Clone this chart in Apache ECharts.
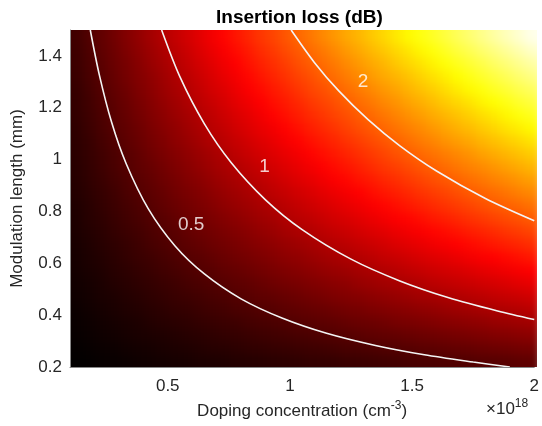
<!DOCTYPE html>
<html>
<head>
<meta charset="utf-8">
<script src="https://cdn.jsdelivr.net/npm/echarts@6/dist/echarts.min.js"></script>
<style>
html, body { margin: 0; padding: 0; background: #fff; }
#wrap { position: relative; width: 542px; height: 426px; }
#clip { position: absolute; left: 70px; top: 30px; width: 467px; height: 337px; overflow: hidden; }
#heat { position: absolute; left: -70px; top: -30px; width: 542px; height: 426px; filter: blur(5px); }
#chart { position: absolute; left: 0; top: 0; width: 542px; height: 426px; }
</style>
</head>
<body>
<div id="wrap">
  <div id="clip"><div id="heat"></div></div>
  <div id="chart"></div>
</div>
<script>
// cell centres (doping in 1e18 cm^-3, length in mm), cells are 0.05 wide/tall
var dopingCenters = [0.125,0.175,0.225,0.275,0.325,0.375,0.425,0.475,0.525,0.575,0.625,0.675,0.725,0.775,0.825,0.875,0.925,0.975,1.025,1.075,1.125,1.175,1.225,1.275,1.325,1.375,1.425,1.475,1.525,1.575,1.625,1.675,1.725,1.775,1.825,1.875,1.925,1.975];
var lengthCenters = [0.225,0.275,0.325,0.375,0.425,0.475,0.525,0.575,0.625,0.675,0.725,0.775,0.825,0.875,0.925,0.975,1.025,1.075,1.125,1.175,1.225,1.275,1.325,1.375,1.425,1.475];

// insertion loss (dB), one row per length, bottom row first
var loss = [
[0.06,0.07,0.09,0.10,0.11,0.13,0.14,0.16,0.17,0.18,0.20,0.21,0.22,0.24,0.25,0.26,0.28,0.29,0.30,0.32,0.33,0.34,0.36,0.37,0.38,0.40,0.41,0.43,0.44,0.45,0.47,0.48,0.49,0.51,0.52,0.53,0.55,0.56],
[0.07,0.09,0.11,0.12,0.14,0.16,0.17,0.19,0.21,0.22,0.24,0.26,0.27,0.29,0.31,0.32,0.34,0.35,0.37,0.39,0.40,0.42,0.44,0.45,0.47,0.49,0.50,0.52,0.54,0.55,0.57,0.59,0.60,0.62,0.64,0.65,0.67,0.68],
[0.09,0.11,0.13,0.15,0.17,0.19,0.20,0.22,0.24,0.26,0.28,0.30,0.32,0.34,0.36,0.38,0.40,0.42,0.44,0.46,0.48,0.50,0.52,0.54,0.56,0.58,0.59,0.61,0.63,0.65,0.67,0.69,0.71,0.73,0.75,0.77,0.79,0.81],
[0.10,0.12,0.15,0.17,0.19,0.21,0.24,0.26,0.28,0.30,0.33,0.35,0.37,0.39,0.42,0.44,0.46,0.48,0.51,0.53,0.55,0.57,0.60,0.62,0.64,0.66,0.69,0.71,0.73,0.75,0.78,0.80,0.82,0.84,0.87,0.89,0.91,0.93],
[0.11,0.14,0.17,0.19,0.22,0.24,0.27,0.29,0.32,0.34,0.37,0.40,0.42,0.45,0.47,0.50,0.52,0.55,0.57,0.60,0.62,0.65,0.68,0.70,0.73,0.75,0.78,0.80,0.83,0.85,0.88,0.91,0.93,0.96,0.98,1.01,1.03,1.06],
[0.13,0.16,0.19,0.21,0.24,0.27,0.30,0.33,0.36,0.38,0.41,0.44,0.47,0.50,0.53,0.56,0.58,0.61,0.64,0.67,0.70,0.73,0.76,0.78,0.81,0.84,0.87,0.90,0.93,0.95,0.98,1.01,1.04,1.07,1.10,1.13,1.15,1.18],
[0.14,0.17,0.20,0.24,0.27,0.30,0.33,0.36,0.39,0.43,0.46,0.49,0.52,0.55,0.58,0.61,0.65,0.68,0.71,0.74,0.77,0.80,0.83,0.87,0.90,0.93,0.96,0.99,1.02,1.06,1.09,1.12,1.15,1.18,1.21,1.24,1.28,1.31],
[0.16,0.19,0.22,0.26,0.29,0.33,0.36,0.40,0.43,0.47,0.50,0.53,0.57,0.60,0.64,0.67,0.71,0.74,0.78,0.81,0.85,0.88,0.91,0.95,0.98,1.02,1.05,1.09,1.12,1.16,1.19,1.22,1.26,1.29,1.33,1.36,1.40,1.43],
[0.17,0.21,0.24,0.28,0.32,0.36,0.39,0.43,0.47,0.51,0.54,0.58,0.62,0.66,0.69,0.73,0.77,0.81,0.84,0.88,0.92,0.96,0.99,1.03,1.07,1.11,1.14,1.18,1.22,1.26,1.29,1.33,1.37,1.41,1.44,1.48,1.52,1.56],
[0.18,0.22,0.26,0.30,0.34,0.38,0.43,0.47,0.51,0.55,0.59,0.63,0.67,0.71,0.75,0.79,0.83,0.87,0.91,0.95,0.99,1.03,1.07,1.11,1.15,1.19,1.24,1.28,1.32,1.36,1.40,1.44,1.48,1.52,1.56,1.60,1.64,1.68],
[0.20,0.24,0.28,0.33,0.37,0.41,0.46,0.50,0.54,0.59,0.63,0.67,0.72,0.76,0.80,0.85,0.89,0.94,0.98,1.02,1.07,1.11,1.15,1.20,1.24,1.28,1.33,1.37,1.41,1.46,1.50,1.54,1.59,1.63,1.67,1.72,1.76,1.81],
[0.21,0.26,0.30,0.35,0.40,0.44,0.49,0.53,0.58,0.63,0.67,0.72,0.77,0.81,0.86,0.91,0.95,1.00,1.05,1.09,1.14,1.19,1.23,1.28,1.33,1.37,1.42,1.46,1.51,1.56,1.60,1.65,1.70,1.74,1.79,1.84,1.88,1.93],
[0.22,0.27,0.32,0.37,0.42,0.47,0.52,0.57,0.62,0.67,0.72,0.77,0.82,0.87,0.92,0.97,1.01,1.06,1.11,1.16,1.21,1.26,1.31,1.36,1.41,1.46,1.51,1.56,1.61,1.66,1.71,1.76,1.81,1.86,1.91,1.96,2.00,2.05],
[0.24,0.29,0.34,0.39,0.45,0.50,0.55,0.60,0.66,0.71,0.76,0.81,0.87,0.92,0.97,1.02,1.08,1.13,1.18,1.23,1.29,1.34,1.39,1.44,1.50,1.55,1.60,1.65,1.71,1.76,1.81,1.86,1.92,1.97,2.02,2.07,2.13,2.18],
[0.25,0.31,0.36,0.42,0.47,0.53,0.58,0.64,0.69,0.75,0.80,0.86,0.92,0.97,1.03,1.08,1.14,1.19,1.25,1.30,1.36,1.42,1.47,1.53,1.58,1.64,1.69,1.75,1.80,1.86,1.91,1.97,2.03,2.08,2.14,2.19,2.25,2.30],
[0.26,0.32,0.38,0.44,0.50,0.56,0.61,0.67,0.73,0.79,0.85,0.91,0.97,1.02,1.08,1.14,1.20,1.26,1.32,1.37,1.43,1.49,1.55,1.61,1.67,1.73,1.78,1.84,1.90,1.96,2.02,2.08,2.14,2.19,2.25,2.31,2.37,2.43],
[0.28,0.34,0.40,0.46,0.52,0.58,0.65,0.71,0.77,0.83,0.89,0.95,1.01,1.08,1.14,1.20,1.26,1.32,1.38,1.45,1.51,1.57,1.63,1.69,1.75,1.81,1.88,1.94,2.00,2.06,2.12,2.18,2.24,2.31,2.37,2.43,2.49,2.55],
[0.29,0.35,0.42,0.48,0.55,0.61,0.68,0.74,0.81,0.87,0.94,1.00,1.06,1.13,1.19,1.26,1.32,1.39,1.45,1.52,1.58,1.64,1.71,1.77,1.84,1.90,1.97,2.03,2.10,2.16,2.23,2.29,2.35,2.42,2.48,2.55,2.61,2.68],
[0.30,0.37,0.44,0.51,0.57,0.64,0.71,0.78,0.84,0.91,0.98,1.05,1.11,1.18,1.25,1.32,1.38,1.45,1.52,1.59,1.65,1.72,1.79,1.86,1.92,1.99,2.06,2.13,2.19,2.26,2.33,2.40,2.46,2.53,2.60,2.67,2.73,2.80],
[0.32,0.39,0.46,0.53,0.60,0.67,0.74,0.81,0.88,0.95,1.02,1.09,1.16,1.23,1.30,1.37,1.45,1.52,1.59,1.66,1.73,1.80,1.87,1.94,2.01,2.08,2.15,2.22,2.29,2.36,2.43,2.50,2.57,2.64,2.71,2.78,2.86,2.93],
[0.33,0.40,0.48,0.55,0.62,0.70,0.77,0.85,0.92,0.99,1.07,1.14,1.21,1.29,1.36,1.43,1.51,1.58,1.65,1.73,1.80,1.87,1.95,2.02,2.09,2.17,2.24,2.32,2.39,2.46,2.54,2.61,2.68,2.76,2.83,2.90,2.98,3.05],
[0.34,0.42,0.50,0.57,0.65,0.73,0.80,0.88,0.96,1.03,1.11,1.19,1.26,1.34,1.42,1.49,1.57,1.64,1.72,1.80,1.87,1.95,2.03,2.10,2.18,2.26,2.33,2.41,2.49,2.56,2.64,2.72,2.79,2.87,2.95,3.02,3.10,3.17],
[0.36,0.44,0.52,0.60,0.68,0.76,0.83,0.91,0.99,1.07,1.15,1.23,1.31,1.39,1.47,1.55,1.63,1.71,1.79,1.87,1.95,2.03,2.11,2.19,2.27,2.35,2.42,2.50,2.58,2.66,2.74,2.82,2.90,2.98,3.06,3.14,3.22,3.30],
[0.37,0.45,0.54,0.62,0.70,0.78,0.87,0.95,1.03,1.11,1.20,1.28,1.36,1.44,1.53,1.61,1.69,1.77,1.86,1.94,2.02,2.10,2.19,2.27,2.35,2.43,2.52,2.60,2.68,2.76,2.85,2.93,3.01,3.09,3.18,3.26,3.34,3.42],
[0.38,0.47,0.56,0.64,0.73,0.81,0.90,0.98,1.07,1.15,1.24,1.33,1.41,1.50,1.58,1.67,1.75,1.84,1.92,2.01,2.09,2.18,2.27,2.35,2.44,2.52,2.61,2.69,2.78,2.86,2.95,3.04,3.12,3.21,3.29,3.38,3.46,3.55],
[0.40,0.49,0.58,0.66,0.75,0.84,0.93,1.02,1.11,1.19,1.28,1.37,1.46,1.55,1.64,1.73,1.81,1.90,1.99,2.08,2.17,2.26,2.35,2.43,2.52,2.61,2.70,2.79,2.88,2.96,3.05,3.14,3.23,3.32,3.41,3.50,3.58,3.67]
];

// contour lines: [doping, length]
var contour05 = [[0.183,1.5],[0.22,1.327],[0.27,1.145],[0.33,0.984],[0.42,0.811],[0.53,0.667],[0.65,0.559],[0.8,0.463],[0.97,0.388],[1.15,0.33],[1.35,0.283],[1.55,0.247],[1.75,0.219],[1.9,0.2]];
var contour1 = [[0.475,1.5],[0.55,1.319],[0.65,1.138],[0.76,0.988],[0.9,0.845],[1.05,0.73],[1.25,0.616],[1.45,0.532],[1.65,0.467],[1.85,0.416],[2.0,0.383]];
var contour2 = [[1.005,1.5],[1.1,1.375],[1.2,1.265],[1.32,1.154],[1.45,1.053],[1.6,0.956],[1.8,0.85],[2.0,0.764]];
var contourLabels = [[0.596,0.749,'0.5'],[0.896,0.974,'1'],[1.299,1.30,'2']];

var xTicks = [0.5, 1, 1.5, 2];
var yTicks = [0.2, 0.4, 0.6, 0.8, 1, 1.2, 1.4];

var nCols = dopingCenters.length, nRows = lengthCenters.length;
var cellData = [];
for (var j = 0; j < nRows; j++) {
    for (var i = 0; i < nCols; i++) {
        cellData.push([dopingCenters[i], lengthCenters[j], loss[j][i]]);
    }
}

var halfW = (dopingCenters[1] - dopingCenters[0]) / 2;
var halfH = (lengthCenters[1] - lengthCenters[0]) / 2;

// edge cells are stretched past the frame so the blur does not fade the border
function renderCell(params, api) {
    var x = api.value(0), y = api.value(1);
    var col = params.dataIndex % nCols, row = Math.floor(params.dataIndex / nCols);
    var p0 = api.coord([x - halfW, y + halfH]);
    var p1 = api.coord([x + halfW, y - halfH]);
    var x0 = p0[0], y0 = p0[1], x1 = p1[0] + 1, y1 = p1[1] + 1;
    if (col === 0) x0 -= 15;
    if (col === nCols - 1) x1 += 15;
    if (row === 0) y1 += 15;
    if (row === nRows - 1) y0 -= 15;
    return {
        type: 'rect',
        shape: { x: x0, y: y0, width: x1 - x0, height: y1 - y0 },
        style: { fill: api.visual('color') }
    };
}

var font = 'Liberation Sans';
var gridBox = { left: 70, top: 30, width: 467, height: 337 };

var heatChart = echarts.init(document.getElementById('heat'));
heatChart.setOption({
    animation: false,
    grid: gridBox,
    visualMap: {
        show: false,
        type: 'continuous',
        seriesIndex: 0,
        dimension: 2,
        min: 0.05,
        max: 3.75,
        inRange: {
            color: ['#000000', '#550000', '#aa0000', '#ff0000', '#ff5500',
                    '#ffaa00', '#ffff00', '#ffff80', '#ffffff']
        }
    },
    xAxis: { type: 'value', min: 0.1, max: 2, show: false },
    yAxis: { type: 'value', min: 0.2, max: 1.5, show: false },
    series: [{
        type: 'custom',
        renderItem: renderCell,
        clip: false,
        encode: { x: 0, y: 1 },
        data: cellData
    }]
});

var contourLine = { color: '#f4f4f4', width: 1.6 };

var myChart = echarts.init(document.getElementById('chart'));
var option = {
    animation: false,
    textStyle: { fontFamily: font },
    grid: gridBox,
    graphic: [
        {
            type: 'text', left: 304 - 88, top: 8,
            style: { text: 'Insertion loss (dB)', font: 'bold 19px "Liberation Sans"', fill: '#000' }
        },
        {
            type: 'text', left: 486, top: 398,
            style: {
                text: '×10{sup|18}',
                font: '17px "Liberation Sans"', fill: '#262626',
                rich: { sup: { fontSize: 12, padding: [0, 0, 10, 0], fontFamily: font, fill: '#262626' } }
            }
        }
    ],
    xAxis: {
        type: 'value', min: 0.1, max: 2, z: 10,
        name: 'Doping concentration (cm{sup|-3})',
        nameLocation: 'middle', nameGap: 33,
        nameTextStyle: {
            fontSize: 17, color: '#262626',
            rich: { sup: { fontSize: 12, padding: [0, 0, 10, 0], color: '#262626' } }
        },
        axisLine: { show: true, lineStyle: { color: '#888', width: 1 } },
        axisTick: { show: false },
        splitLine: { show: false },
        axisLabel: { customValues: xTicks, fontSize: 17, color: '#262626', margin: 11 }
    },
    yAxis: {
        type: 'value', min: 0.2, max: 1.5, z: 10,
        name: 'Modulation length (mm)',
        nameLocation: 'middle', nameGap: 44, nameRotate: 90,
        nameTextStyle: { fontSize: 17, color: '#262626' },
        axisLine: { show: true, lineStyle: { color: '#888', width: 1 } },
        axisTick: { show: false },
        splitLine: { show: false },
        axisLabel: { customValues: yTicks, fontSize: 17, color: '#262626', margin: 8 }
    },
    series: [
        { type: 'line', data: contour05, smooth: 0.3, symbol: 'none', lineStyle: contourLine, z: 5 },
        { type: 'line', data: contour1, smooth: 0.3, symbol: 'none', lineStyle: contourLine, z: 5 },
        { type: 'line', data: contour2, smooth: 0.3, symbol: 'none', lineStyle: contourLine, z: 5 },
        {
            type: 'scatter', data: contourLabels, symbolSize: 0, z: 6,
            label: {
                show: true, position: 'inside', color: '#fff', fontSize: 19,
                formatter: function (p) { return p.data[2]; }
            }
        }
    ]
};
myChart.setOption(option);
</script>
</body>
</html>
